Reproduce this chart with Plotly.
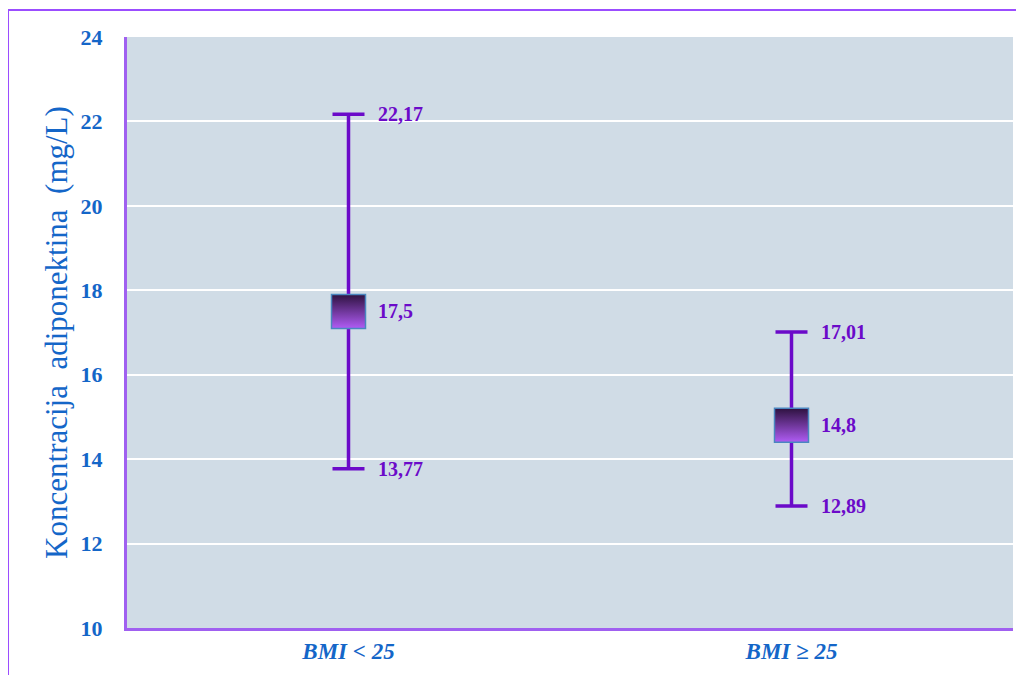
import plotly.graph_objects as go

categories = ["BMI < 25", "BMI ≥ 25"]
means = [17.5, 14.8]
upper = [22.17, 17.01]
lower = [13.77, 12.89]
mean_labels = ["17,5", "14,8"]
upper_labels = ["22,17", "17,01"]
lower_labels = ["13,77", "12,89"]
y_ticks = [10, 12, 14, 16, 18, 20, 22, 24]

purple = "#6B0AC9"
blue = "#1466C8"
axis_purple = "#A060F0"

fig = go.Figure()
fig.add_trace(go.Scatter(
    x=categories, y=means, mode="markers",
    marker=dict(symbol="square", size=34, color="#2E1240",
                gradient=dict(type="vertical", color="#B05CF5"),
                line=dict(color="#4A86C0", width=1.5)),
    error_y=dict(type="data", symmetric=False,
                 array=[u - m for u, m in zip(upper, means)],
                 arrayminus=[m - l for m, l in zip(means, lower)],
                 color=purple, thickness=3.5, width=16),
    showlegend=False, hoverinfo="skip",
))

annotations = []
for cat, m, u, l, ml, ul, ll in zip(categories, means, upper, lower, mean_labels, upper_labels, lower_labels):
    for yv, txt in [(m, ml), (u, ul), (l, ll)]:
        annotations.append(dict(x=cat, y=yv, text=txt, showarrow=False, xanchor="left",
                                xshift=27, yshift=0,
                                font=dict(family="Liberation Serif", size=20, color=purple, weight="bold")))

fig.update_layout(
    width=1008, height=667,
    margin=dict(l=119, r=3, t=29, b=47),
    paper_bgcolor="white", plot_bgcolor="#D0DCE6",
    annotations=annotations,
    xaxis=dict(showgrid=False, showline=True, linecolor=axis_purple, linewidth=3,
               range=[-0.5, 1.5], zeroline=False, ticks="",
               tickfont=dict(family="Liberation Serif", size=23, color=blue, weight="bold", style="italic")),
    yaxis=dict(range=[10, 24], tickvals=y_ticks, showgrid=True, gridcolor="white", gridwidth=2,
               showline=True, linecolor=axis_purple, linewidth=3, zeroline=False, ticks="",
               ticklabelstandoff=17,
               tickfont=dict(family="Liberation Serif", size=22, color=blue, weight="bold"),
               title=dict(text="Koncentracija\u00a0\u00a0adiponektina\u00a0\u00a0(mg/L)", standoff=4,
                          font=dict(family="Liberation Serif", size=31, color=blue))),
    shapes=[
        dict(type="line", xref="paper", yref="paper", x0=-0.1343, x1=1.05, y0=1.0457, y1=1.0457,
             line=dict(color="#9B4DFF", width=2)),
        dict(type="line", xref="paper", yref="paper", x0=-0.1343, x1=-0.1343, y0=1.0457, y1=-0.2,
             line=dict(color="#9B4DFF", width=2)),
    ],
)

fig.write_html("out.html")
